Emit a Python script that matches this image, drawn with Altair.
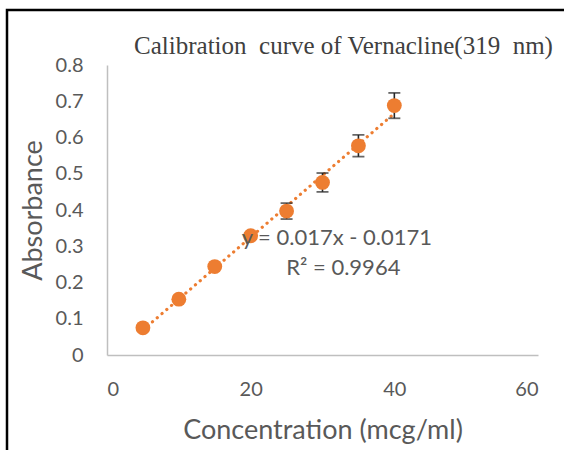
import altair as alt
import pandas as pd

# ---- data ----
conc = [5, 10, 15, 20, 25, 30, 35, 40]
absorbance = [0.075, 0.154, 0.244, 0.329, 0.397, 0.476, 0.577, 0.688]
sd = [0.004, 0.005, 0.006, 0.008, 0.022, 0.026, 0.030, 0.035]
x_ticks = [0, 20, 40, 60]
y_ticks = [0, 0.1, 0.2, 0.3, 0.4, 0.5, 0.6, 0.7, 0.8]
title_text = "Calibration\u00a0 curve of Vernacline(319\u00a0 nm)"
eq_text = "y = 0.017x - 0.0171"
r2_text = "R² = 0.9964"

df = pd.DataFrame({"conc": conc, "abs": absorbance, "sd": sd})

ORANGE = "#ED7D31"
GREY = "#595959"

xs = alt.Scale(domain=[0, 60], nice=False)
ys = alt.Scale(domain=[0, 0.8], nice=False)
x_axis = alt.Axis(values=x_ticks, title="Concentration (mcg/ml)", grid=False,
                  ticks=False, labelPadding=24, titlePadding=18,
                  labelOverlap=False)
y_axis = alt.Axis(values=y_ticks, tickCount=9, title="Absorbance", grid=False,
                  ticks=False, labelPadding=24, titlePadding=8,
                  labelOverlap=False,
                  labelExpr="datum.value == 0 ? '0' : format(datum.value, '.1f')")


def X(field):
    return alt.X(field, type="quantitative", scale=xs, axis=x_axis)


def Y(field):
    return alt.Y(field, type="quantitative", scale=ys, axis=y_axis)


base = alt.Chart(df)

frame = alt.Chart(pd.DataFrame({"k": [0]})).mark_rect(
    fill=None, stroke="black", strokeWidth=2.5
).encode(
    x=alt.value(-100), x2=alt.value(520), y=alt.value(-55), y2=alt.value(440)
)

trend = base.transform_regression(
    "conc", "abs", method="linear", extent=[5, 40]
).mark_line(
    color=ORANGE, strokeWidth=3.2, strokeDash=[0.1, 6.2], strokeCap="round"
).encode(x=X("conc"), y=Y("abs"))

err = base.transform_calculate(
    lo="datum.abs - datum.sd", hi="datum.abs + datum.sd"
)
err_rule = err.mark_rule(color="#262626", strokeWidth=1.6).encode(
    x=X("conc"), y=Y("lo"), y2="hi:Q"
)
cap_lo = err.mark_tick(color="#262626", thickness=1.8, size=12,
                       orient="horizontal").encode(x=X("conc"), y=Y("lo"))
cap_hi = err.mark_tick(color="#262626", thickness=1.8, size=12,
                       orient="horizontal").encode(x=X("conc"), y=Y("hi"))

points = base.mark_point(filled=True, color=ORANGE, opacity=1, size=220).encode(
    x=X("conc"), y=Y("abs")
)

eq = alt.Chart(pd.DataFrame({"t": [eq_text]})).mark_text(
    font="Lato", fontSize=22, color=GREY, align="center", baseline="middle"
).encode(x=alt.datum(32.0), y=alt.datum(0.323), text="t:N")
r2 = alt.Chart(pd.DataFrame({"t": [r2_text]})).mark_text(
    font="Lato", fontSize=22, color=GREY, align="center", baseline="middle"
).encode(x=alt.datum(32.9), y=alt.datum(0.240), text="t:N")

chart = alt.layer(frame, trend, err_rule, cap_lo, cap_hi, points, eq, r2).properties(
    width=431, height=290,
    background="white",
    title=alt.TitleParams(title_text, font="Liberation Serif", fontSize=25,
                          fontWeight="normal", color="#404040",
                          anchor="middle", dx=21, dy=54),
    autosize=alt.AutoSizeParams(type="none"),
    padding={"left": 107, "top": 65, "right": 26, "bottom": 95},
).configure_view(stroke=None).configure_axis(
    domainColor="#BFBFBF", domainWidth=1.5,
    labelFont="Lato", labelFontSize=20, labelColor=GREY,
    titleFont="Lato", titleFontSize=27, titleColor=GREY, titleFontWeight="normal",
)

chart.save("out.html", embed_options={"renderer": "svg", "actions": False})
